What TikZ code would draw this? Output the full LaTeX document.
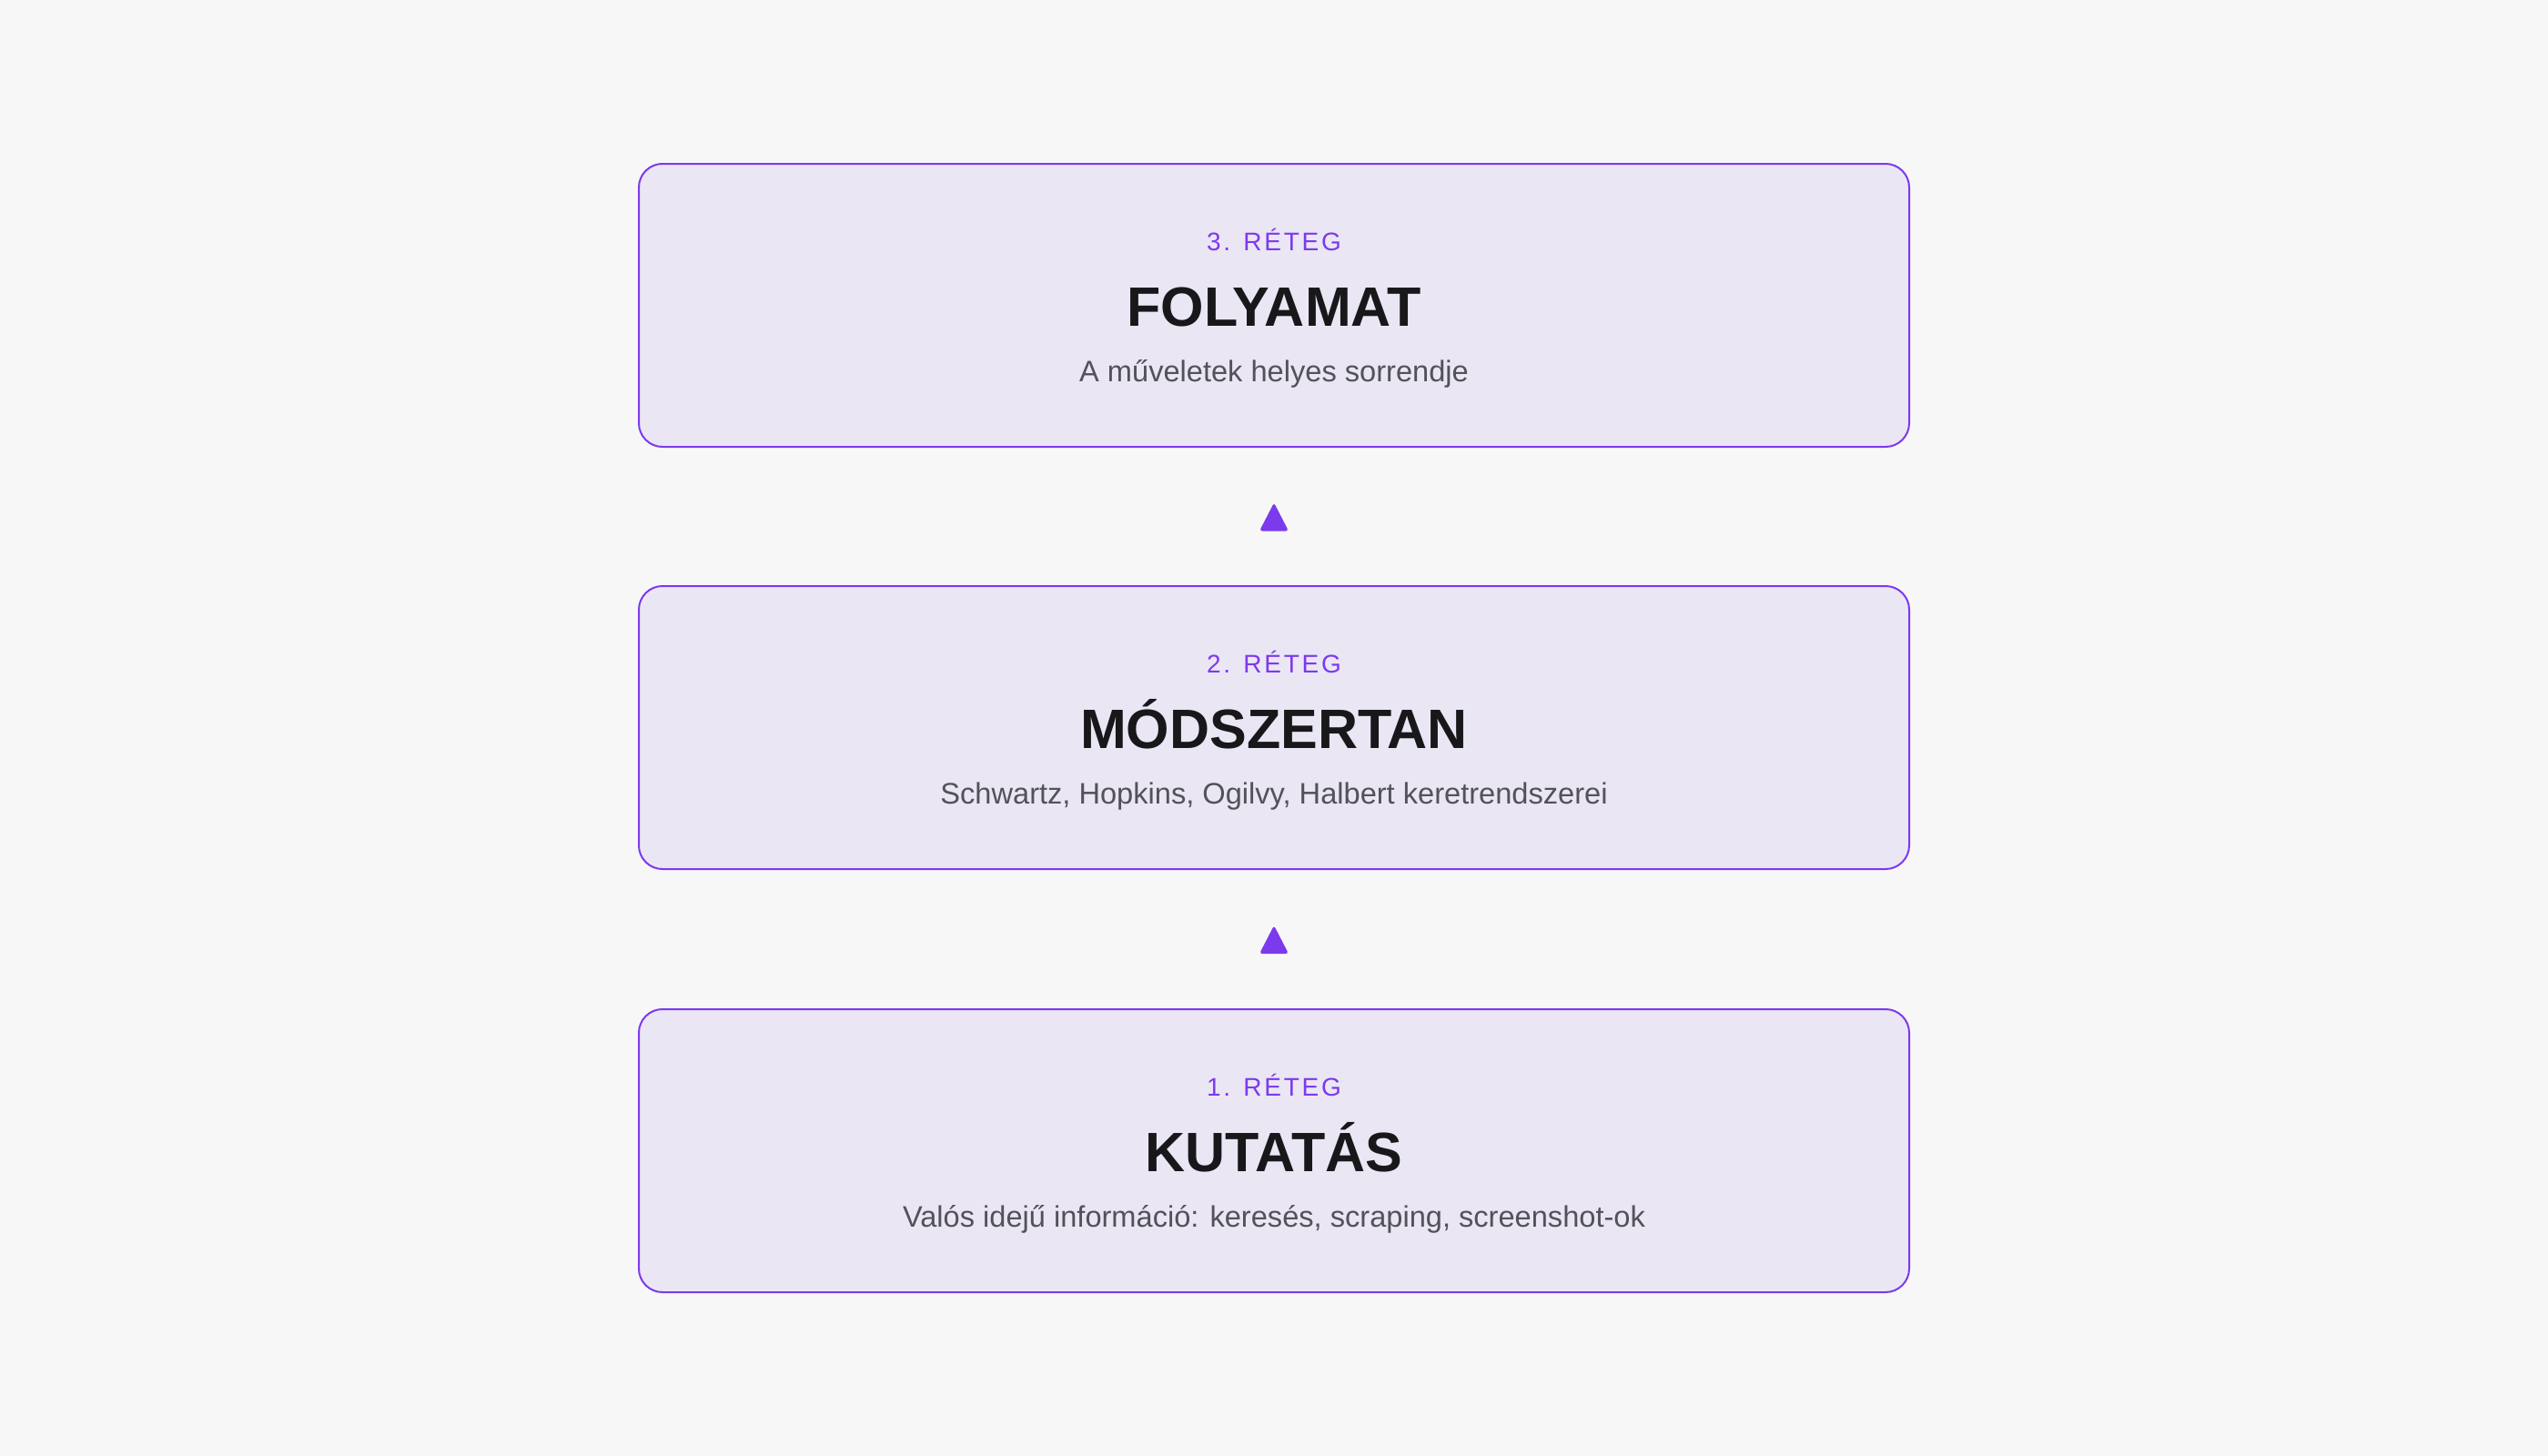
\documentclass[tikz,border=0pt]{standalone}
\usepackage{fontspec}
\setmainfont{Liberation Sans}
\usetikzlibrary{calc}
\definecolor{bgc}{RGB}{247,247,248}
\definecolor{lav}{RGB}{235,230,244}
\definecolor{vio}{RGB}{124,58,237}
\definecolor{ink}{RGB}{24,24,27}
\definecolor{sub}{RGB}{82,82,91}
\tikzset{
  layer/.style={draw=vio, fill=lav, line width=1pt, rounded corners=13pt,
    minimum width=698pt, minimum height=155.5pt, inner sep=0pt},
  tag/.style={text=vio, anchor=base, inner sep=0pt,
    font=\fontsize{14}{16}\selectfont\addfontfeatures{LetterSpace=10}},
  ttl/.style={text=ink, anchor=base, inner sep=0pt,
    font=\fontsize{30.5}{34}\selectfont\bfseries},
  subt/.style={text=sub, anchor=base, inner sep=0pt,
    font=\fontsize{16.3}{18}\selectfont},
  uptri/.style={fill=vio, rounded corners=1.5pt}
}
\begin{document}
\begin{tikzpicture}[x=1pt,y=-1pt]
\useasboundingbox[fill=bgc] (0,0) rectangle (1400,800);

\node[layer] (l3) at (700,167.75) {};
\node[layer] (l2) at (700,399.75) {};
\node[layer] (l1) at (700,632.25) {};

\foreach \b/\n/\t/\s in {l3/3/FOLYAMAT/A műveletek helyes sorrendje,
                         l2/2/MÓDSZERTAN/{Schwartz, Hopkins, Ogilvy, Halbert keretrendszerei},
                         l1/1/KUTATÁS/{Valós idejű információ: keresés, scraping, screenshot-ok}} {
  \node[tag]  (\b-tag) at ($(\b.north)+(0,48)$) {\n. RÉTEG};
  \node[ttl]  (\b-ttl) at ($(\b.north)+(0,89.5)$) {\t};
  \node[subt] (\b-sub) at ($(\b.north)+(0,120.2)$) {\s};
}

\coordinate (a1) at ($(l3.south)!0.5!(l2.north)$);
\coordinate (a2) at ($(l2.south)!0.5!(l1.north)$);
\foreach \a in {a1,a2} {
  \fill[uptri] ($(\a)+(0,-7.5)$) -- ($(\a)+(8,8)$) -- ($(\a)+(-8,8)$) -- cycle;
}
\end{tikzpicture}
\end{document}
